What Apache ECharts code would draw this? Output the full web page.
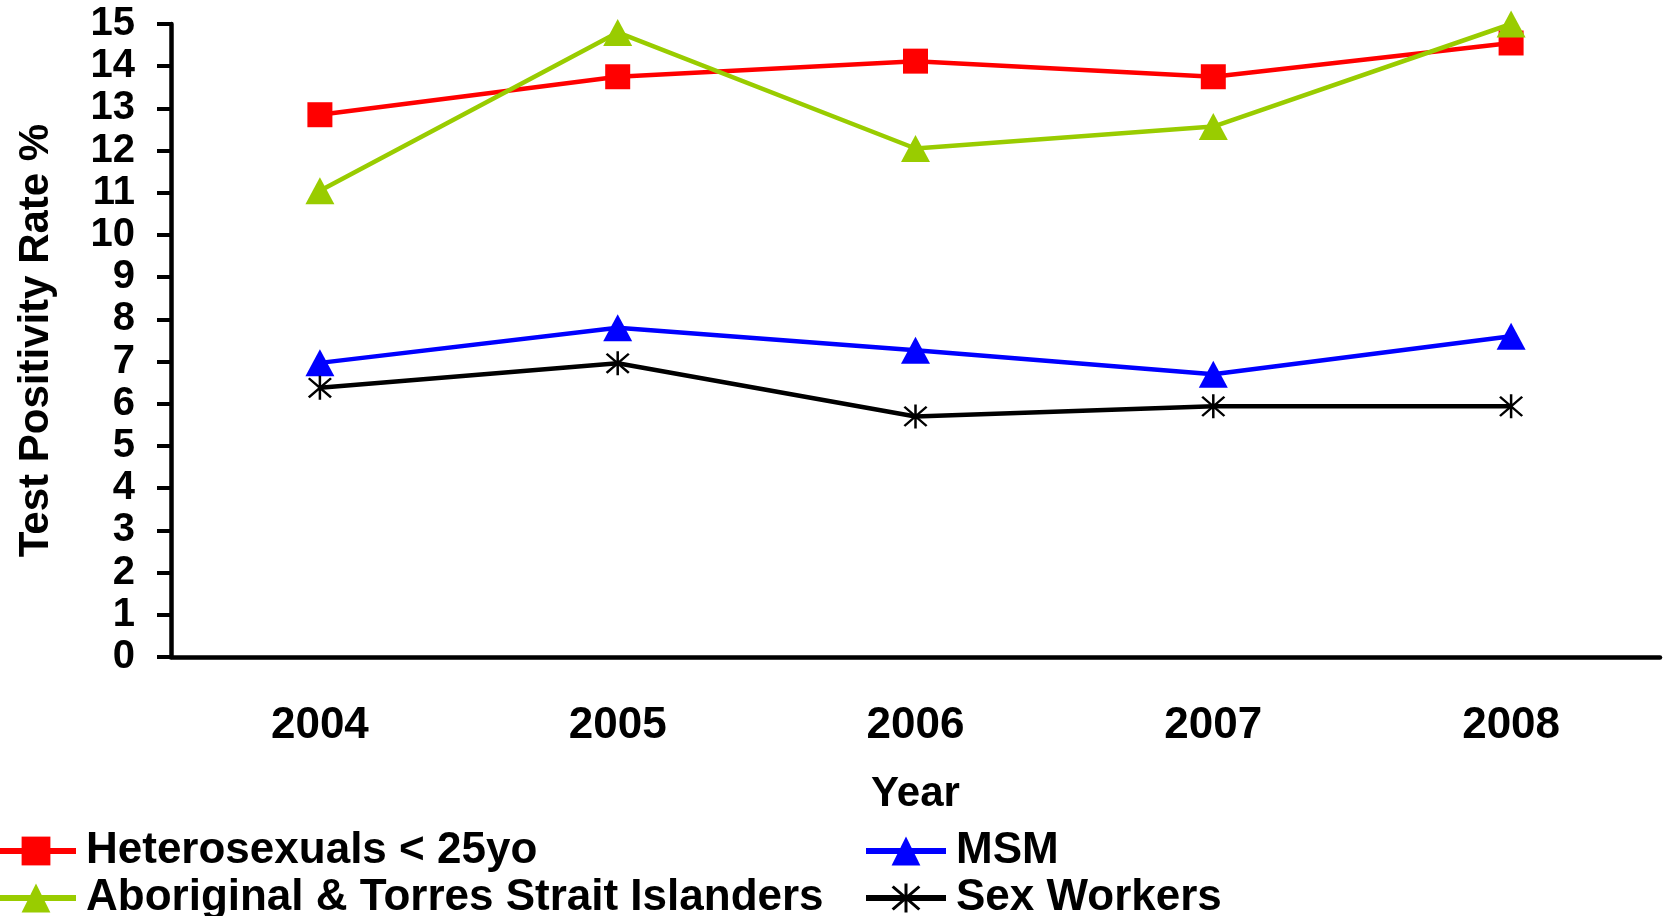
<!DOCTYPE html>
<html><head><meta charset="utf-8">
<script src="https://cdn.jsdelivr.net/npm/echarts@6/dist/echarts.min.js"></script>
<style>html,body{margin:0;padding:0;background:#fff}#c{width:1671px;height:916px}</style>
</head><body><div id="c"></div>
<script>
var years = ['2004','2005','2006','2007','2008'];
var hetero = [12.85, 13.75, 14.12, 13.75, 14.55];
var aboriginal = [11.05, 14.8, 12.05, 12.57, 15.0];
var msm = [6.97, 7.8, 7.27, 6.7, 7.6];
var sexWorkers = [6.38, 6.96, 5.7, 5.94, 5.94];
var names = ['Heterosexuals < 25yo', 'Aboriginal & Torres Strait Islanders', 'MSM', 'Sex Workers'];

var FONT = '"Liberation Sans", Arial, sans-serif';
var asterisk = 'path://M9.1,0 L10.9,0 L10.9,20 L9.1,20 Z M2.636,1.364 L18.636,17.364 L17.364,18.636 L1.364,2.636 Z M17.364,1.364 L18.636,2.636 L2.636,18.636 L1.364,17.364 Z';

function legendAt(name, left, top) {
  return {
    data: [name], left: left, top: top, padding: 0, itemWidth: 80, itemHeight: 36, itemGap: 10,
    lineStyle: {width: 6},
    textStyle: {fontFamily: FONT, fontWeight: 'bold', fontSize: 44, color: '#000', padding: [0, 0, 0, 5]},
    selectedMode: false
  };
}

var chart = echarts.init(document.getElementById('c'));
chart.setOption({
  animation: false,
  backgroundColor: '#fff',
  grid: {left: 171, right: 11, top: 24, bottom: 259, containLabel: false},
  legend: [
    legendAt(names[0], -7, 829),
    legendAt(names[1], -7, 876),
    legendAt(names[2], 863, 829),
    legendAt(names[3], 863, 876)
  ],
  xAxis: {
    type: 'category', data: years, boundaryGap: true,
    name: 'Year', nameLocation: 'middle', nameGap: 116,
    nameTextStyle: {fontFamily: FONT, fontWeight: 'bold', fontSize: 42, color: '#000'},
    axisLine: {lineStyle: {color: '#000', width: 4.5}},
    axisTick: {length: 13, lineStyle: {color: '#000', width: 4}},
    axisLabel: {margin: 47, fontFamily: FONT, fontWeight: 'bold', fontSize: 44, color: '#000'},
    splitLine: {show: false}
  },
  yAxis: {
    type: 'value', min: 0, max: 15, interval: 1,
    name: 'Test Positivity Rate %', nameLocation: 'middle', nameGap: 114,
    nameTextStyle: {fontFamily: FONT, fontWeight: 'bold', fontSize: 42, color: '#000'},
    axisLine: {show: true, lineStyle: {color: '#000', width: 4.5}},
    axisTick: {show: true, length: 14, lineStyle: {color: '#000', width: 4}},
    axisLabel: {margin: 36, fontFamily: FONT, fontWeight: 'bold', fontSize: 40, color: '#000'},
    splitLine: {show: false}
  },
  series: [
    {name: names[0], type: 'line', data: hetero, symbol: 'rect', symbolSize: 25,
     itemStyle: {color: '#FF0000'}, lineStyle: {color: '#FF0000', width: 4.5}},
    {name: names[1], type: 'line', data: aboriginal, symbol: 'triangle', symbolSize: [29, 27],
     itemStyle: {color: '#99CC00'}, lineStyle: {color: '#99CC00', width: 4.5}},
    {name: names[2], type: 'line', data: msm, symbol: 'triangle', symbolSize: [29, 27],
     itemStyle: {color: '#0000FF'}, lineStyle: {color: '#0000FF', width: 4.5}},
    {name: names[3], type: 'line', data: sexWorkers, symbol: asterisk, symbolSize: 24,
     itemStyle: {color: '#000000'}, lineStyle: {color: '#000000', width: 4.5}}
  ]
});
</script></body></html>
